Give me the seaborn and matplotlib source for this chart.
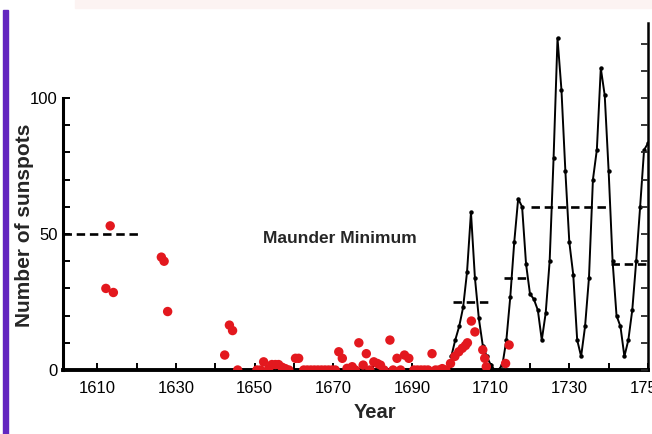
import numpy as np
import pandas as pd
import matplotlib
matplotlib.use("Agg")
import matplotlib.pyplot as plt
from matplotlib.patches import Rectangle
from matplotlib.ticker import MultipleLocator, FixedLocator
import seaborn as sns

# Telescopic sunspot observations (red points)
obs_years = [1612.2, 1613.3, 1614.1, 1626.3, 1627.0, 1627.9,
             1642.4, 1643.6, 1644.4, 1645.7,
             1650.6, 1651.5, 1652.3, 1653.6, 1654.4, 1655.3, 1656.1, 1657.0,
             1657.8, 1658.7, 1660.4, 1661.2,
             1662.5, 1663.4, 1664.3, 1665.2, 1666.1, 1667.0, 1667.9, 1668.8,
             1669.7, 1670.5,
             1671.4, 1672.3, 1673.5, 1674.8, 1675.6, 1676.5, 1677.6, 1678.4,
             1679.3, 1680.3, 1681.2, 1682.0, 1682.9, 1684.4, 1685.2, 1686.2,
             1687.1, 1688.1, 1689.2,
             1690.5, 1691.4, 1692.3, 1693.2, 1694.1, 1695.1, 1696.0, 1696.9,
             1697.7, 1698.6, 1699.8,
             1700.9, 1701.9, 1702.8, 1703.6, 1704.1, 1705.1, 1706.0,
             1708.0, 1708.5, 1708.9, 1713.8, 1714.7]
obs_counts = [30, 53, 28.5, 41.5, 40, 21.5,
              5.5, 16.5, 14.5, 0,
              0, 0, 3, 0.5, 2, 2, 2, 1,
              0.5, 0, 4.3, 4.3,
              0, 0, 0, 0, 0, 0, 0, 0,
              0, 0,
              6.7, 4.3, 0.6, 1.2, 0, 10, 1.8, 6,
              0, 3, 2.4, 1.8, 0, 11, 0, 4.3,
              0, 5.5, 4.3,
              0, 0, 0, 0, 0, 6, 0, 0,
              0.5, 0, 2.4,
              5, 6.7, 8, 9, 10, 18, 14,
              7.4, 4.3, 1.2, 2.4, 9.2]

# Yearly sunspot numbers 1700-1750 (black curve)
yearly_years = list(range(1700, 1751))
yearly_counts = [5, 11, 16, 23, 36, 58, 34, 19, 9, 5,
                 2, 0, 0, 2, 11, 27, 47, 63, 60, 39,
                 28, 26, 22, 11, 21, 40, 78, 122, 103, 73,
                 47, 35, 11, 5, 16, 34, 70, 81, 111, 101,
                 73, 40, 20, 16, 5, 11, 22, 40, 60, 80.9,
                 83.4]

# Period averages (dashed segments)
avg_start = [1601.3, 1700.5, 1713.3, 1720.2, 1740.5]
avg_end = [1621.4, 1710.0, 1720.0, 1739.8, 1750.0]
avg_level = [50, 25, 34, 60, 39]

x_major = [1610, 1630, 1650, 1670, 1690, 1710, 1730, 1750]

sns.set_theme(style="white")
plt.rcParams["font.family"] = ["Liberation Sans", "DejaVu Sans"]

fig = plt.figure(figsize=(6.52, 4.34), dpi=100)
ax = fig.add_axes([63 / 652, 64 / 434, 585 / 652, 347 / 434])

obs = pd.DataFrame({"year": obs_years, "count": obs_counts})
yearly = pd.DataFrame({"year": yearly_years, "count": yearly_counts})

# dashed averages
ax.hlines(avg_level, avg_start, avg_end, colors="black", linewidth=1.9,
          linestyles=(0, (3.2, 1.8)), zorder=2)

sns.lineplot(data=yearly, x="year", y="count", ax=ax, color="black",
             linewidth=1.4, marker="o", markersize=3.2, markeredgewidth=0,
             zorder=3)
sns.scatterplot(data=obs, x="year", y="count", ax=ax, color="#e3181e",
                s=46, edgecolor="none", zorder=4)

ax.set_xlim(1601.3, 1750)
ax.set_ylim(0, 127.6)

ax.spines["top"].set_visible(False)
ax.spines["left"].set_bounds(0, 100)
ax.spines["left"].set_linewidth(2.2)
ax.spines["bottom"].set_linewidth(2.8)
ax.spines["right"].set_linewidth(1.8)
for s in ax.spines.values():
    s.set_color("black")

ax.xaxis.set_major_locator(FixedLocator(x_major))
ax.xaxis.set_minor_locator(MultipleLocator(10))
ax.set_xticklabels([str(v) for v in x_major])
ax.yaxis.set_major_locator(FixedLocator([0, 50, 100]))
ax.yaxis.set_minor_locator(FixedLocator(list(range(10, 100, 10))))

ax.tick_params(axis="x", which="both", direction="in", length=5, width=1.4,
               bottom=True, pad=8, labelsize=12, colors="black")
ax.tick_params(axis="y", which="both", direction="in", length=5, width=1.4,
               left=True, pad=4, labelsize=12, colors="black")

# right-hand scale ticks up to the top of the frame
ax2 = ax.twinx()
ax2.set_ylim(ax.get_ylim())
ax2.yaxis.set_major_locator(MultipleLocator(10))
ax2.tick_params(axis="y", direction="in", length=5, width=1.3,
                labelright=False, right=True)
for s in ax2.spines.values():
    s.set_visible(False)
ax2.grid(False)
ax.grid(False)

ax.set_xlabel("Year", fontsize=14.5, fontweight="bold")
ax.xaxis.set_label_coords(0.533, -0.095)
ax.set_ylabel("Number of sunspots", fontsize=15, fontweight="bold")
ax.yaxis.set_label_coords(-0.05, 0.418)

ax.text(1671.7, 48.5, "Maunder Minimum", ha="center", va="center",
        fontsize=12.5, fontweight="bold")

# page decorations
fig.patches.append(Rectangle((3 / 652, 0), 5 / 652, 424 / 434,
                             transform=fig.transFigure, color="#6326c0",
                             zorder=0))
fig.patches.append(Rectangle((75 / 652, 426 / 434), 577 / 652, 8 / 434,
                             transform=fig.transFigure, color="#fcf3f2",
                             zorder=0))

fig.savefig("out.png", dpi=100)
